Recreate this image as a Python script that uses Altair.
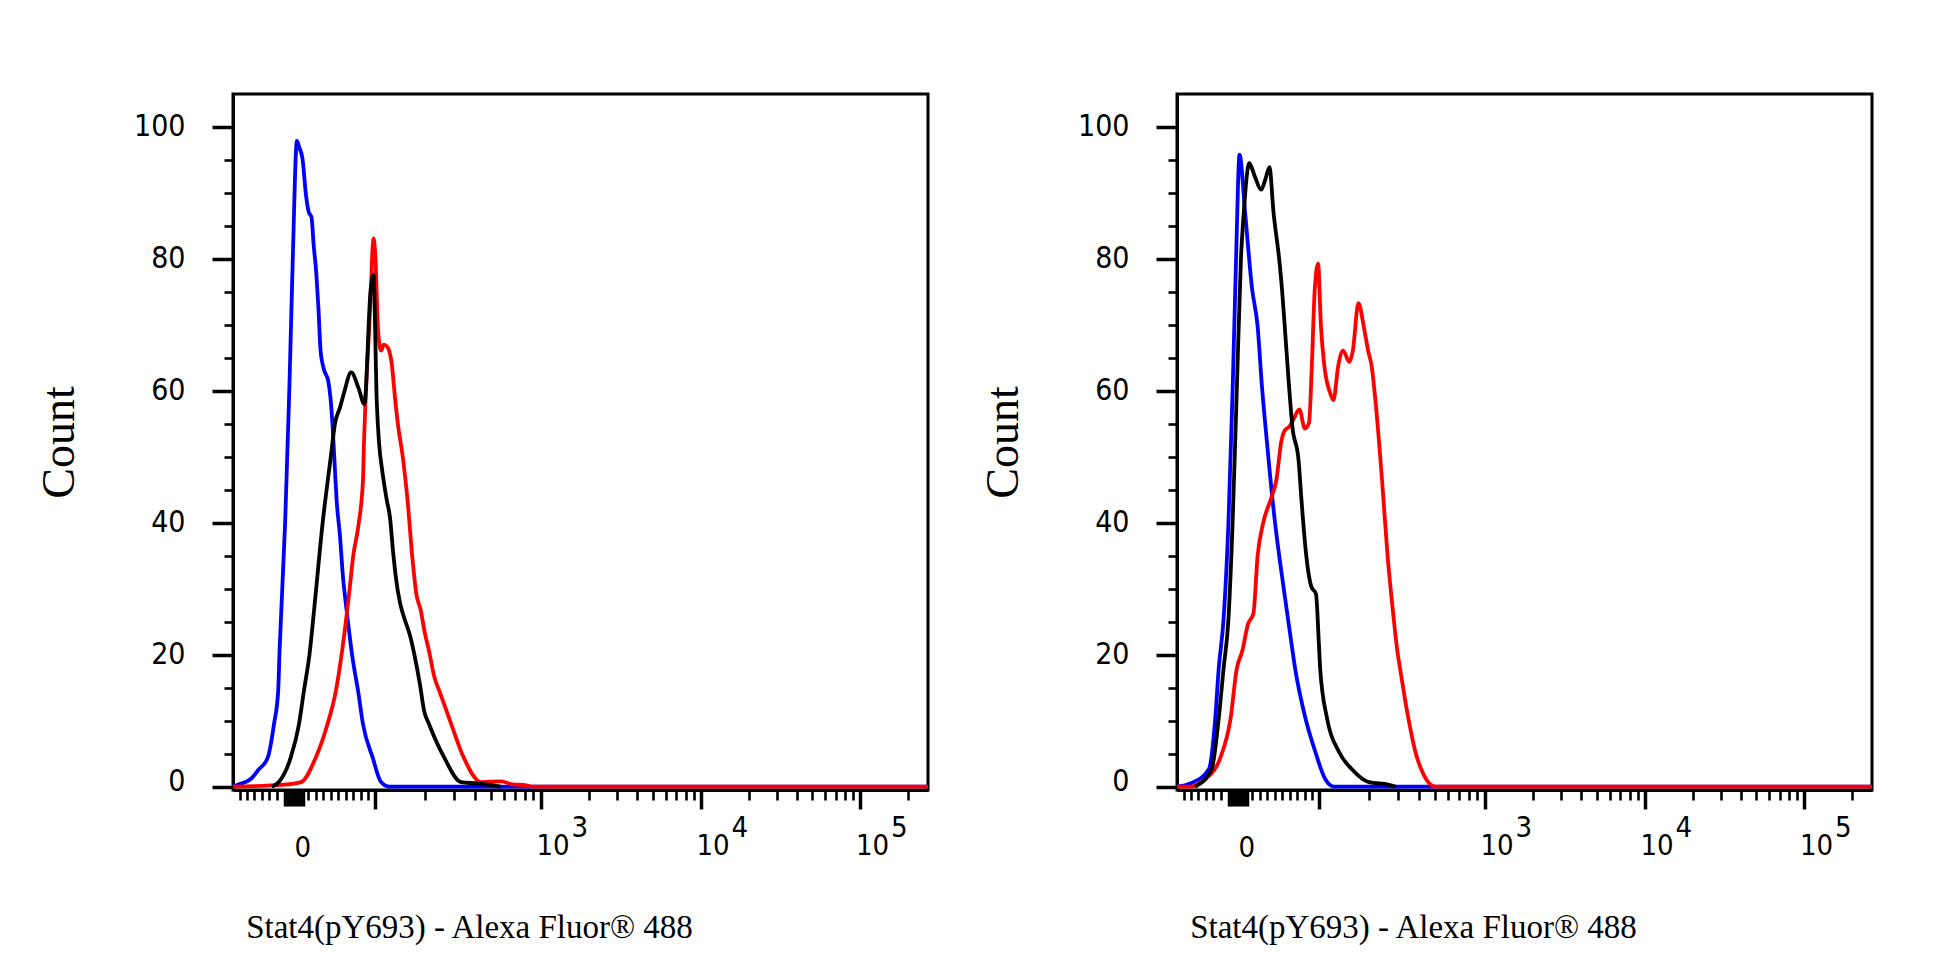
import math
import altair as alt
import pandas as pd

# x = display channel of the biexponential axis (0..1000 across the plot frame)
# y = event count
SERIES = ["blue", "red", "black"]
COLORS = ["#0000FF", "#FF0000", "#000000"]

# ---------------- left panel ----------------
L_BLUE_X = [0, 7, 26, 36, 50, 59, 65, 67, 75, 81, 86, 92, 95, 100, 105, 109, 113, 116, 120, 123,
            126, 131, 137, 140, 143, 146, 149, 154, 158, 164, 172, 180, 187, 201, 213, 225, 1000]
L_BLUE_Y = [0, 0.3, 1.2, 2.5, 4.4, 9.5, 14.5, 20.6, 40, 60, 80, 97.9, 97, 95.2, 89.7, 87.1, 86.3, 82.2, 77.6, 72.4,
            66.1, 63.2, 61.5, 59.2, 55.2, 49.4, 43.6, 37.9, 32.1, 26.3, 19.5, 14.5, 9.5, 4.4, 0.7, 0, 0]

L_BLACK_X = [56, 66, 83, 95, 102, 110, 118, 129, 140, 147, 154, 160, 170, 181, 189, 198, 202, 207, 210, 215,
             221, 226, 230, 234, 240, 246, 255, 261, 269, 275, 282, 304, 328, 350, 374, 385]
L_BLACK_Y = [0, 0.7, 4.4, 9.5, 14.5, 20, 28.2, 40, 49.4, 55.2, 57.5, 59.8, 62.8, 60.3, 58, 75.3, 77.6, 58, 52.3, 47.7,
             43.6, 40.7, 36, 32, 28, 25.7, 22.8, 20, 15.5, 11.5, 9.5, 4.4, 0.7, 0.5, 0.2, 0]

L_RED_X = [0, 73, 98, 119, 136, 148, 157, 167, 173, 181, 187, 188.5, 190.5, 193, 196, 198.5, 200.5, 202.5, 205, 208.5,
           213, 217, 222, 228, 234, 237, 245, 251, 258, 264, 270, 276, 282, 290, 297, 314, 332, 357, 386, 400,
           422, 432, 1000]
L_RED_Y = [0, 0.3, 0.7, 4.4, 9.5, 14.5, 20.6, 29.2, 35, 40, 46.5, 52.3, 58, 63.8, 69.6, 75.3, 81.1, 83.1, 80, 69.6,
           66.1, 67, 66.7, 64.4, 58, 55.2, 49.4, 43.6, 34.8, 29.1, 26.8, 23.3, 20.6, 16.5, 14.5, 9.5, 4.4, 0.7, 0.8, 0.4,
           0.2, 0, 0]

# ---------------- right panel ----------------
R_BLUE_X = [0, 14, 22, 46, 55, 60, 67, 74, 80, 85, 90, 98, 108, 116, 122, 129, 140, 154, 163, 170,
            185, 199, 213, 226, 1000]
R_BLUE_Y = [0, 0.3, 0.6, 2.7, 10.3, 17.9, 25.4, 40, 60, 80, 95.8, 87, 75.5, 69.8, 61, 52.7, 41, 29.7, 23, 17.9,
            10.3, 5.3, 1.2, 0, 0]

R_BLACK_X = [26, 50, 60, 67, 74, 80, 86, 92, 96, 104, 112, 121, 127, 133, 139, 147, 151, 155, 161, 166,
             175, 179, 186, 193, 200, 204, 206, 216, 233, 252, 276, 305, 315]
R_BLACK_Y = [0, 2.7, 10.3, 17.9, 25.4, 40, 60, 80, 86.9, 94.5, 92.5, 90.5, 92, 93.9, 86.9, 80, 75.5, 69.8, 61, 54.6,
             49.4, 43.6, 35, 30.4, 29.2, 22, 17.9, 10.3, 5.3, 2.6, 0.7, 0.3, 0]

R_RED_X = [0, 17, 41, 62, 77, 86, 94, 102, 110, 116, 124, 135, 143, 150, 155, 162, 169, 176, 184, 190,
           194, 198, 203, 207, 212, 220, 225, 232, 239, 248, 253, 261, 269, 275, 280, 286, 295, 303, 311, 317,
           321, 333, 343, 355, 372, 1000]
R_RED_Y = [0, 0, 1.2, 4.3, 10.3, 17.9, 20.6, 24.6, 26.3, 35, 40, 43.6, 46.5, 52.3, 54, 54.6, 56, 57.2, 54.3, 55.2,
           63.8, 75, 79.3, 70, 63.8, 59.8, 58.6, 63.8, 66.1, 64.4, 66.1, 73.3, 69.6, 66.1, 63.8, 58, 46.5, 35, 26.3, 20.6,
           17.9, 10.3, 5.3, 1.8, 0, 0]

# ---------------- axis ticks (display channel) ----------------
DECADES = [205.0, 443.2, 673.4, 902.7]          # 10^2, 10^3, 10^4, 10^5
DECADE_SPAN = [238.2, 230.2, 229.3, 229.3]
ZERO_BLOCK = [74.8, 79.1, 83.5, 87.8, 92.1, 96.5, 100.7]
ZERO_POS = 87.8
LIN_MINOR = [9.4, 20.1, 30.9, 41.7, 52.5, 63.3, 108.1, 118.8, 129.6, 140.4, 151.2, 162.0,
             172.8, 183.6, 194.4]
EXPONENTS = ["3", "4", "5"]

LOG_MINOR = []
for start, span in zip(DECADES, DECADE_SPAN):
    for m in range(2, 10):
        v = round(start + span * math.log10(m), 2)
        if v <= 1000:
            LOG_MINOR.append(v)

X_TICKS = sorted(LIN_MINOR + ZERO_BLOCK + DECADES + LOG_MINOR)

TITLE_X = "Stat4(pY693) - Alexa Fluor\u00ae 488"
TITLE_Y = "Count"

LABEL_FONT = "DejaVu Sans Condensed, Liberation Sans, sans-serif"
TITLE_FONT = "Liberation Serif, Times New Roman, serif"

major_test = " || ".join(f"abs(datum.value - {d}) < 0.01" for d in DECADES)
block_test = "datum.value >= 74 && datum.value <= 101"
label_expr = (
    f"abs(datum.value - {ZERO_POS}) < 0.01 ? '0' : "
    f"((abs(datum.value - {DECADES[1]}) < 0.01 || abs(datum.value - {DECADES[2]}) < 0.01 || "
    f"abs(datum.value - {DECADES[3]}) < 0.01) ? '10' : '')"
)
expo_expr = (
    f"abs(datum.value - {DECADES[1]}) < 0.01 ? '{EXPONENTS[0]}' : "
    f"(abs(datum.value - {DECADES[2]}) < 0.01 ? '{EXPONENTS[1]}' : '{EXPONENTS[2]}')"
)

X_SCALE = alt.Scale(domain=[0, 1000], nice=False, zero=False)
Y_SCALE = alt.Scale(domain=[-0.5, 105], nice=False, zero=False)


def x_axis():
    return alt.Axis(
        values=X_TICKS, labelExpr=label_expr, labelOverlap=False, labelFlush=False, labelBound=False,
        labelAlign="left", labelBaseline="top",
        labelOffset={"condition": {"test": f"({block_test})", "value": 0}, "value": -5},
        labelPadding={"condition": {"test": f"({block_test})", "value": 27}, "value": 22},
        labelFont=LABEL_FONT, labelFontSize=29, labelColor="black",
        tickColor="black",
        tickSize={"condition": [{"test": f"({major_test})", "value": 19},
                                {"test": f"({block_test})", "value": 16}],
                  "value": 10},
        tickWidth={"condition": {"test": f"({major_test}) || ({block_test})", "value": 3.5},
                   "value": 2.6},
        domainColor="black", domainWidth=3, grid=False,
        title=TITLE_X, titleFont=TITLE_FONT, titleFontSize=33, titleFontWeight="normal",
        titleColor="black", titleX=236, titleY=137, titleAlign="center", titleBaseline="middle",
    )


def expo_axis():
    return alt.Axis(
        values=DECADES[1:], labelExpr=expo_expr, labelOverlap=False, labelFlush=False, labelBound=False,
        orient="bottom", ticks=False, domain=False, grid=False, tickSize=0,
        labelAlign="left", labelBaseline="top", labelOffset=30, labelPadding=23,
        labelFont=LABEL_FONT, labelFontSize=29, labelColor="black", title=None,
    )


def y_axis():
    return alt.Axis(
        values=list(range(0, 101, 5)),
        labelExpr="datum.value % 20 == 0 ? datum.label : ''",
        labelOverlap=False, labelFlush=False, labelBound=False,
        labelFont=LABEL_FONT, labelFontSize=30, labelColor="black", labelPadding=27,
        labelOffset={"condition": {"test": "datum.value == 0", "value": -5}, "value": 0},
        tickColor="black",
        tickSize={"condition": {"test": "datum.value % 20 == 0", "value": 21}, "value": 9},
        tickWidth={"condition": {"test": "datum.value % 20 == 0", "value": 3.5}, "value": 2.6},
        domainColor="black", domainWidth=3, grid=False,
        title=TITLE_Y, titleFont=TITLE_FONT, titleFontSize=46, titleFontWeight="normal",
        titleColor="black", titleX=-174, titleY=348, titleAngle=270, titleAlign="center",
        titleBaseline="middle",
    )


def panel(bx, by, rx, ry, kx, ky):
    rows = []
    for name, xs, ys in (("blue", bx, by), ("red", rx, ry), ("black", kx, ky)):
        for x, y in zip(xs, ys):
            rows.append({"series": name, "ch": x, "count": y})
    df = pd.DataFrame(rows)
    lines = alt.Chart(df).mark_line(strokeWidth=3.8, strokeJoin="round", interpolate="monotone").encode(
        x=alt.X("ch:Q", scale=X_SCALE, axis=x_axis()),
        y=alt.Y("count:Q", scale=Y_SCALE, axis=y_axis()),
        color=alt.Color("series:N", scale=alt.Scale(domain=SERIES, range=COLORS), legend=None),
    )
    expo = alt.Chart(pd.DataFrame({"ch": DECADES[1:]})).mark_point(opacity=0).encode(
        x=alt.X("ch:Q", scale=X_SCALE, axis=expo_axis()),
    )
    return alt.layer(lines, expo).resolve_axis(x="independent").properties(width=695, height=696)


left = panel(L_BLUE_X, L_BLUE_Y, L_RED_X, L_RED_Y, L_BLACK_X, L_BLACK_Y)
right = panel(R_BLUE_X, R_BLUE_Y, R_RED_X, R_RED_Y, R_BLACK_X, R_BLACK_Y)

chart = alt.hconcat(left, right, spacing=249, bounds="flush").properties(
    padding={"left": 26, "top": 84, "right": 5, "bottom": 5},
    background="white",
).configure_view(stroke="black", strokeWidth=3)

chart.save("out.html", embed_options={"renderer": "svg", "actions": False})
